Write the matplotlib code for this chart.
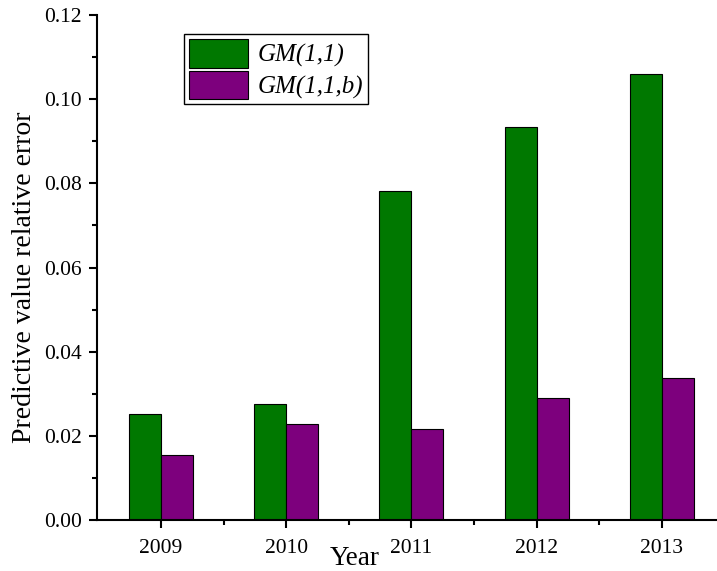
import matplotlib
matplotlib.use("Agg")
import matplotlib.pyplot as plt
from matplotlib.ticker import MultipleLocator, FixedLocator, FormatStrFormatter
import numpy as np

plt.rcParams["font.family"] = ["Liberation Serif", "DejaVu Serif"]

years = ["2009", "2010", "2011", "2012", "2013"]
gm11 = [0.0251, 0.0276, 0.0781, 0.0935, 0.1059]
gm11b = [0.0155, 0.0227, 0.0216, 0.0290, 0.0338]
series_names = ["GM(1,1)", "GM(1,1,b)"]

fig = plt.figure(figsize=(7.17, 5.71), dpi=100)
ax = fig.add_axes([0.1353, 0.0893, 0.8647, 0.8844])

x = np.arange(len(years))
w = 0.255
ax.bar(x - w / 2, gm11, width=w, color="#007800", edgecolor="black", linewidth=0.8, label=series_names[0])
ax.bar(x + w / 2, gm11b, width=w, color="#7d007d", edgecolor="black", linewidth=0.8, label=series_names[1])

ax.set_xlim(-0.51, 4.44)
ax.set_ylim(0, 0.12)
ax.set_xticks(x)
ax.set_xticklabels(years)
ax.xaxis.set_minor_locator(FixedLocator(x[:-1] + 0.5))
ax.yaxis.set_major_locator(MultipleLocator(0.02))
ax.yaxis.set_minor_locator(MultipleLocator(0.01))
ax.yaxis.set_major_formatter(FormatStrFormatter("%.2f"))

for side in ("top", "right"):
    ax.spines[side].set_visible(False)
for side in ("left", "bottom"):
    ax.spines[side].set_linewidth(1.5)

ax.tick_params(axis="both", which="major", direction="out", length=6, width=1.5, labelsize=15.5)
ax.tick_params(axis="both", which="minor", direction="out", length=3.5, width=1.5)
ax.tick_params(axis="x", pad=8)
ax.tick_params(axis="y", pad=5)

ax.set_ylabel("Predictive value relative error", fontsize=20)
ax.yaxis.set_label_coords(-0.097, 0.481)
fig.text(0.495, 0.011, "Year", fontsize=19.5, ha="center", va="baseline")

leg = ax.legend(loc="upper left", bbox_to_anchor=(0.140, 0.962), frameon=True, fancybox=False,
                edgecolor="black", framealpha=1, borderpad=0.2, handlelength=2.35, handleheight=1.4,
                handletextpad=0.4, labelspacing=0.1, borderaxespad=0,
                prop={"style": "italic", "size": 18})
leg.get_frame().set_linewidth(1.0)

fig.savefig("out.png", dpi=100)
